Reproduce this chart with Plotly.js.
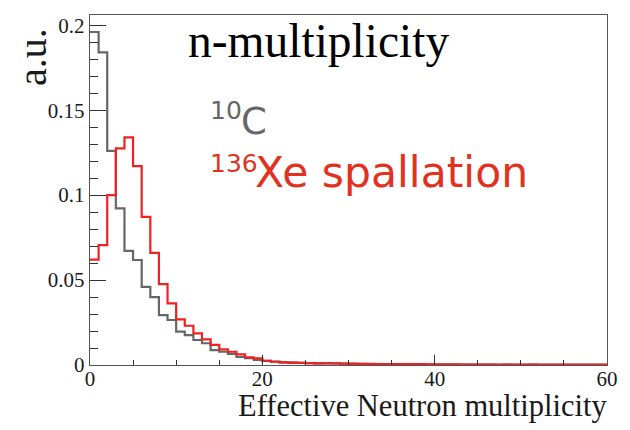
<!DOCTYPE html>
<html>
<head>
<meta charset="utf-8">
<script src="https://cdn.plot.ly/plotly-3.0.1.min.js"></script>
<style>
  html, body { margin: 0; padding: 0; background: #fff; }
  #chart { width: 630px; height: 430px; }
</style>
</head>
<body>
<div id="chart"></div>
<script>
// Lower edges of the unit-width multiplicity bins (0 .. 59), last edge closes the histogram
const binLow = [0, 1, 2, 3, 4, 5, 6, 7, 8, 9,
  10, 11, 12, 13, 14, 15, 16, 17, 18, 19,
  20, 21, 22, 23, 24, 25, 26, 27, 28, 29,
  30, 31, 32, 33, 34, 35, 36, 37, 38, 39,
  40, 41, 42, 43, 44, 45, 46, 47, 48, 49,
  50, 51, 52, 53, 54, 55, 56, 57, 58, 59];
const lastEdge = 60;

// 10C: normalised effective neutron multiplicity
const carbon10 = [0.196, 0.184, 0.126, 0.0922, 0.0672, 0.0618, 0.046, 0.040, 0.0294, 0.0265,
  0.0196, 0.0176, 0.0147, 0.0128, 0.0088, 0.0078, 0.0065, 0.0047, 0.0041, 0.0030,
  0.0024, 0.0020, 0.0016, 0.0015, 0.0013, 0.0011, 0.0010, 0.0011, 0.0009, 0.0008,
  0.0007, 0.0007, 0.0006, 0.0005, 0.0005, 0.0004, 0.0005, 0.0004, 0.0003, 0.0003,
  0.0003, 0.0003, 0.0002, 0.0003, 0.0002, 0.0002, 0.0002, 0.0001, 0.0002, 0.0001,
  0.0001, 0.0002, 0.0001, 0.0001, 0.0001, 0.0001, 0.0001, 0.0001, 0.0001, 0.0001];

// 136Xe spallation: normalised effective neutron multiplicity
const xeSpallation = [0.062, 0.0706, 0.100, 0.1275, 0.134, 0.117, 0.0872, 0.066, 0.0476, 0.0363,
  0.0268, 0.0231, 0.0186, 0.0151, 0.0118, 0.0092, 0.0078, 0.0063, 0.0045, 0.0039,
  0.0025, 0.0019, 0.0015, 0.0013, 0.0012, 0.0011, 0.0010, 0.0009, 0.0009, 0.0008,
  0.0008, 0.0007, 0.0007, 0.0006, 0.0006, 0.0006, 0.0005, 0.0005, 0.0005, 0.0004,
  0.0004, 0.0004, 0.0004, 0.0003, 0.0003, 0.0003, 0.0003, 0.0003, 0.0003, 0.0002,
  0.0002, 0.0002, 0.0002, 0.0002, 0.0002, 0.0002, 0.0002, 0.0002, 0.0002, 0.0002];

const xTickVals = [0, 20, 40, 60];
const yTickVals = [0, 0.05, 0.1, 0.15, 0.2];
const yTickText = ['0', '0.05', '0.1', '0.15', '0.2'];

const GREY = '#666666';
const RED = '#ee2222';
const TEXT_RED = '#e3311f';
const SERIF = 'Liberation Serif, Times New Roman, serif';
const SANS = 'DejaVu Sans, Verdana, sans-serif';

// step outline: hold each bin value until the next edge, then close at the last edge
function stepTrace(values, color) {
  return {
    type: 'scatter',
    mode: 'lines',
    x: binLow.concat([lastEdge]),
    y: values.concat([values[values.length - 1]]),
    line: { shape: 'hv', color: color, width: 2.2 },
    hoverinfo: 'skip',
    showlegend: false
  };
}

const traces = [stepTrace(carbon10, GREY), stepTrace(xeSpallation, RED)];

const axisCommon = {
  showline: true,
  mirror: true,
  linecolor: '#555',
  linewidth: 1.3,
  showgrid: false,
  zeroline: false,
  ticks: 'inside',
  tickcolor: '#333',
  tickwidth: 1,
  tickfont: { family: SERIF, size: 21, color: '#1a1a1a' }
};

const layout = {
  width: 630,
  height: 430,
  margin: { l: 90, r: 23, t: 15, b: 65 },
  paper_bgcolor: '#ffffff',
  plot_bgcolor: '#ffffff',
  xaxis: Object.assign({}, axisCommon, {
    range: [0, 60],
    tickmode: 'array',
    tickvals: xTickVals,
    ticklen: 10,
    ticklabelstandoff: -6,
    minor: { ticks: 'inside', dtick: 5, tick0: 0, ticklen: 5, tickcolor: '#333', showgrid: false }
  }),
  yaxis: Object.assign({}, axisCommon, {
    range: [0, 0.206],
    tickmode: 'array',
    tickvals: yTickVals,
    ticktext: yTickText,
    ticklen: 16,
    minor: { ticks: 'inside', dtick: 0.01, tick0: 0, ticklen: 8, tickcolor: '#333', showgrid: false }
  }),
  annotations: [
    { text: 'n-multiplicity', xref: 'paper', yref: 'paper', x: 0.185, y: 0.927,
      xanchor: 'left', yanchor: 'middle', showarrow: false,
      font: { family: SERIF, size: 47.5, color: '#000' } },
    { text: '10', xref: 'paper', yref: 'paper', x: 0.228, y: 0.728,
      xanchor: 'left', yanchor: 'middle', showarrow: false,
      font: { family: SANS, size: 25, color: GREY } },
    { text: 'C', xref: 'paper', yref: 'paper', x: 0.289, y: 0.695,
      xanchor: 'left', yanchor: 'middle', showarrow: false,
      font: { family: SANS, size: 37, color: GREY } },
    { text: '136', xref: 'paper', yref: 'paper', x: 0.228, y: 0.575,
      xanchor: 'left', yanchor: 'middle', showarrow: false,
      font: { family: SANS, size: 25, color: TEXT_RED } },
    { text: 'Xe spallation', xref: 'paper', yref: 'paper', x: 0.315, y: 0.55,
      xanchor: 'left', yanchor: 'middle', showarrow: false,
      font: { family: SANS, size: 42.5, color: TEXT_RED } },
    { text: 'Effective Neutron multiplicity', xref: 'paper', yref: 'paper', x: 1.003, y: -0.118,
      xanchor: 'right', yanchor: 'middle', showarrow: false,
      font: { family: SERIF, size: 30.5, color: '#1a1a1a' } },
    { text: 'a.u.', xref: 'paper', yref: 'paper', x: -0.112, y: 0.88, textangle: -90,
      xanchor: 'center', yanchor: 'middle', showarrow: false,
      font: { family: SERIF, size: 40, color: '#1a1a1a' } }
  ]
};

Plotly.newPlot('chart', traces, layout, { displayModeBar: false, staticPlot: true });
</script>
</body>
</html>
